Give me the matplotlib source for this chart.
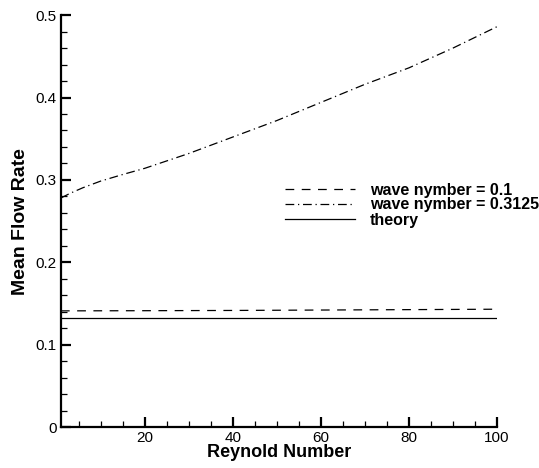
import matplotlib
matplotlib.use("Agg")
import matplotlib.pyplot as plt
from matplotlib.ticker import MultipleLocator

plt.rcParams['font.family'] = ['Liberation Sans', 'DejaVu Sans']

# data
re_dashed = [1, 20, 40, 60, 80, 100]
q_dashed = [0.141, 0.1412, 0.1415, 0.142, 0.1425, 0.143]

re_dashdot = [1, 3, 6, 10, 15, 20, 30, 40, 50, 60, 70, 80, 90, 100]
q_dashdot = [0.278, 0.2835, 0.2905, 0.2985, 0.3065, 0.314, 0.332, 0.352,
             0.372, 0.394, 0.416, 0.436, 0.460, 0.486]

re_theory = [1, 100]
q_theory = [0.132, 0.132]

labels = ['wave nymber = 0.1', 'wave nymber = 0.3125', 'theory']

fig = plt.figure(figsize=(5.39, 4.68), dpi=100)
ax = fig.add_axes([0.113, 0.0876, 0.809, 0.880])

ax.plot(re_dashed, q_dashed, color='black', lw=0.9, dashes=(7, 6), label=labels[0])
ax.plot(re_dashdot, q_dashdot, color='black', lw=0.9, dashes=(7, 3, 1, 3), label=labels[1])
ax.plot(re_theory, q_theory, color='black', lw=0.9, label=labels[2])

ax.set_xlim(1, 100)
ax.set_ylim(0, 0.5)
ax.xaxis.set_minor_locator(MultipleLocator(5))
ax.yaxis.set_minor_locator(MultipleLocator(0.02))
ax.set_yticks([0, 0.1, 0.2, 0.3, 0.4, 0.5])
ax.set_yticklabels(['0', '0.1', '0.2', '0.3', '0.4', '0.5'])
ax.set_xticks([20, 40, 60, 80, 100])

for side in ['top', 'right']:
    ax.spines[side].set_visible(False)
for side in ['left', 'bottom']:
    ax.spines[side].set_linewidth(1.6)

ax.tick_params(which='major', direction='in', length=7.5, width=1.6, labelsize=11, pad=3)
ax.tick_params(which='minor', direction='in', length=4.5, width=0.9)

ax.set_xlabel('Reynold Number', fontsize=13, fontweight='bold', labelpad=-1)
ax.set_ylabel('Mean Flow Rate', fontsize=14, fontweight='bold', labelpad=5)

leg = ax.legend(loc='center left', bbox_to_anchor=(285 / 539, 1 - 205 / 468),
                bbox_transform=fig.transFigure, frameon=False,
                prop={'weight': 'bold', 'size': 11.5}, handlelength=4.4,
                handletextpad=0.9, labelspacing=0.0, borderpad=0, borderaxespad=0)

fig.savefig('out.png', dpi=100)
plt.close(fig)
